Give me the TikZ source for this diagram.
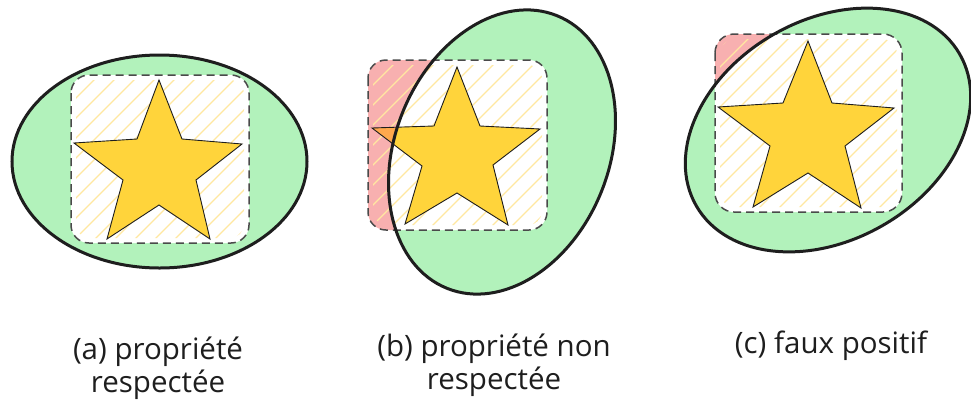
\documentclass[tikz,border=0pt]{standalone}
\usepackage{fontspec}
\setmainfont{Open Sans}
\definecolor{egreen}{HTML}{B2F2BB}
\definecolor{ered}{HTML}{F8B0B0}
\definecolor{eorange}{HTML}{FFA94D}
\definecolor{eyellow}{HTML}{FFD43B}
\definecolor{ehatch}{HTML}{FFE8A0}
\definecolor{edash}{HTML}{4A4A4A}
\definecolor{eink}{HTML}{1E1E1E}
\tikzset{
  ellfill/.style={fill=egreen},
  ellline/.style={draw=eink, line width=3pt},
  boxdash/.style={draw=edash, line width=1.5pt, dash pattern=on 8pt off 5pt},
  hatchline/.style={draw=ehatch, line width=1.2pt},
  starfill/.style={fill=eyellow},
  starline/.style={draw=eink, line width=0.9pt, line join=miter},
  caption/.style={font=\fontsize{29.5}{33}\selectfont, align=center, text=eink}
}
\begin{document}
\begin{tikzpicture}[x=1pt,y=-1pt]
\useasboundingbox (0,0) rectangle (971,405);
% ================= (a) =================
\path[ellfill] (159.5,161.5) ellipse [x radius=147.5, y radius=106.5];
\fill[white, rounded corners=18pt] (71,75) rectangle (249,243);
\begin{scope}
  \clip[rounded corners=14pt] (76,80) rectangle (244,238);
  \foreach \i in {-200,-180,...,200} \draw[hatchline] (71+\i,243) -- ++(200,-200);
\end{scope}
\path[starfill,starline] (159,80) -- (182,139) -- (242,144) -- (196,180) -- (210,239) -- (159,205) -- (107,239) -- (123,180) -- (74,143) -- (137,139) -- cycle;
\draw[boxdash, rounded corners=18pt] (71,75) rectangle (249,243);
\draw[ellline] (159.5,161.5) ellipse [x radius=147.5, y radius=106.5];
% ================= (b) =================
\fill[ered, rounded corners=18pt] (368,60) rectangle (547,230);
\path[ellfill, rotate around={68:(502,152)}] (502,152) ellipse [x radius=147, y radius=107];
\begin{scope}
  \clip[rotate around={68:(502,152)}] (502,152) ellipse [x radius=147, y radius=107];
  \fill[white, rounded corners=18pt] (368,60) rectangle (547,230);
\end{scope}
\begin{scope}
  \clip[rounded corners=14pt] (373,65) rectangle (542,225);
  \foreach \i in {-200,-180,...,200} \draw[hatchline] (368+\i,230) -- ++(200,-200);
\end{scope}
\fill[eorange] (457,67) -- (480,126) -- (540,129) -- (493,165) -- (508,225) -- (457,193) -- (405,224) -- (422,166) -- (372,128) -- (434,126) -- cycle;
\begin{scope}
  \clip[rotate around={68:(502,152)}] (502,152) ellipse [x radius=147, y radius=107];
  \fill[eyellow] (457,67) -- (480,126) -- (540,129) -- (493,165) -- (508,225) -- (457,193) -- (405,224) -- (422,166) -- (372,128) -- (434,126) -- cycle;
\end{scope}
\draw[starline] (457,67) -- (480,126) -- (540,129) -- (493,165) -- (508,225) -- (457,193) -- (405,224) -- (422,166) -- (372,128) -- (434,126) -- cycle;
\draw[boxdash, rounded corners=18pt] (368,60) rectangle (547,230);
\draw[ellline, rotate around={68:(502,152)}] (502,152) ellipse [x radius=147, y radius=107];
% ================= (c) =================
\fill[ered, rounded corners=19pt] (715,34) rectangle (902,212);
\path[ellfill, rotate around={30:(828,130)}] (828,130) ellipse [x radius=152, y radius=110];
\begin{scope}
  \clip[rotate around={30:(828,130)}] (828,130) ellipse [x radius=152, y radius=110];
  \fill[white, rounded corners=19pt] (715,34) rectangle (902,212);
\end{scope}
\begin{scope}
  \clip[rounded corners=15pt] (720,39) rectangle (897,207);
  \foreach \i in {-200,-180,...,220} \draw[hatchline] (715+\i,212) -- ++(210,-210);
\end{scope}
\path[starfill,starline] (808,41) -- (832,103) -- (894,108) -- (845,146) -- (861,208) -- (808,173) -- (753,207) -- (770,146) -- (718,107) -- (783,103) -- cycle;
\draw[boxdash, rounded corners=19pt] (715,34) rectangle (902,212);
\draw[ellline, rotate around={30:(828,130)}] (828,130) ellipse [x radius=152, y radius=110];
% ================= captions =================
\node[caption] (capa) at (158,368) {(a) propriété\\respectée};
\node[caption] (capb) at (494,365) {(b) propriété non\\respectée};
\node[caption] (capc) at (831,346) {(c) faux positif};
\end{tikzpicture}
\end{document}
